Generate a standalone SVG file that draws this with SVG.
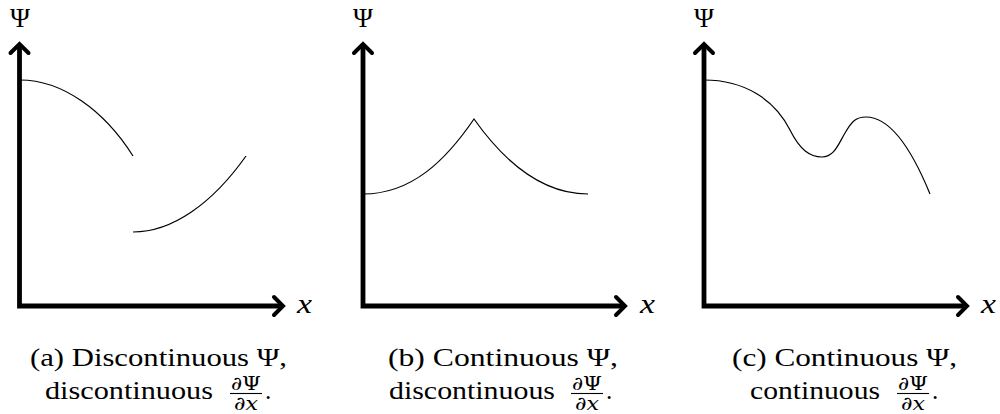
<svg xmlns="http://www.w3.org/2000/svg" width="1000" height="414" viewBox="0 0 1000 414">
<style>
.axis{fill:none;stroke:#000;stroke-width:4.8;stroke-linejoin:miter;stroke-linecap:butt}
.head{fill:none;stroke:#000;stroke-width:4;stroke-linejoin:miter;stroke-linecap:round}
.curve{fill:none;stroke:#000;stroke-width:1.2}
.t{font-family:"Liberation Serif","DejaVu Serif",serif;fill:#000}
.g{font-family:"DejaVu Serif","Liberation Serif",serif;fill:#000}
.cap{font-size:25px}
.lab{font-size:27px}
.xl{font-size:28px;font-style:italic}
.fr{font-size:19px}
.bar{stroke:#000;stroke-width:1.1}
</style>
<rect x="0" y="0" width="1000" height="414" fill="#fff"/>

<g id="panel-a">
  <path class="axis" d="M19.5,47 V306 H280"/>
  <path class="head" d="M10.5,53 L19.5,44 L28.5,53"/>
  <path class="head" d="M274,297 L283,306 L274,315"/>
  <text class="t lab" x="10" y="27" textLength="20" lengthAdjust="spacingAndGlyphs">Ψ</text>
  <text class="t xl" x="297" y="313" textLength="15" lengthAdjust="spacingAndGlyphs">x</text>
  <path class="curve" d="M20,80 C62,80 104,110 133,156"/>
  <path class="curve" d="M133,232 C172,232 212,204 246,156"/>
  <text class="t cap" x="30" y="366" textLength="257" lengthAdjust="spacingAndGlyphs">(a) Discontinuous Ψ,</text>
  <text class="t cap" x="45" y="399" textLength="168" lengthAdjust="spacingAndGlyphs">discontinuous</text>
  <text class="g fr" x="231" y="390" textLength="30" lengthAdjust="spacingAndGlyphs">∂Ψ</text>
  <line class="bar" x1="230" y1="393.5" x2="262" y2="393.5"/>
  <text class="g fr" x="234" y="410" textLength="24" lengthAdjust="spacingAndGlyphs">∂<tspan font-style="italic">x</tspan></text>
  <text class="t cap" x="265" y="399">.</text>
</g>

<g id="panel-b">
  <path class="axis" d="M363,47 V306 H622"/>
  <path class="head" d="M354,53 L363,44 L372,53"/>
  <path class="head" d="M616,297 L625,306 L616,315"/>
  <text class="t lab" x="353" y="27" textLength="20" lengthAdjust="spacingAndGlyphs">Ψ</text>
  <text class="t xl" x="640" y="313" textLength="15" lengthAdjust="spacingAndGlyphs">x</text>
  <path class="curve" d="M363,194 C412,194 446,160 474,119 C503,160 540,194 588,194"/>
  <text class="t cap" x="388" y="366" textLength="230" lengthAdjust="spacingAndGlyphs">(b) Continuous Ψ,</text>
  <text class="t cap" x="389" y="399" textLength="166" lengthAdjust="spacingAndGlyphs">discontinuous</text>
  <text class="g fr" x="572" y="390" textLength="30" lengthAdjust="spacingAndGlyphs">∂Ψ</text>
  <line class="bar" x1="571" y1="393.5" x2="603" y2="393.5"/>
  <text class="g fr" x="575" y="410" textLength="24" lengthAdjust="spacingAndGlyphs">∂<tspan font-style="italic">x</tspan></text>
  <text class="t cap" x="606" y="399">.</text>
</g>

<g id="panel-c">
  <path class="axis" d="M704,47 V306 H964"/>
  <path class="head" d="M695,53 L704,44 L713,53"/>
  <path class="head" d="M958,297 L967,306 L958,315"/>
  <text class="t lab" x="694" y="27" textLength="20" lengthAdjust="spacingAndGlyphs">Ψ</text>
  <text class="t xl" x="981" y="313" textLength="15" lengthAdjust="spacingAndGlyphs">x</text>
  <path class="curve" d="M704,80 C745,80 775,100 790,130 C800,150 810,157 822,157 C834,157 838,145 845,133 C852,121 856,117 866,117 C890,117 912,150 930,194"/>
  <text class="t cap" x="732" y="366" textLength="225" lengthAdjust="spacingAndGlyphs">(c) Continuous Ψ,</text>
  <text class="t cap" x="750" y="399" textLength="130" lengthAdjust="spacingAndGlyphs">continuous</text>
  <text class="g fr" x="898" y="390" textLength="30" lengthAdjust="spacingAndGlyphs">∂Ψ</text>
  <line class="bar" x1="897" y1="393.5" x2="929" y2="393.5"/>
  <text class="g fr" x="901" y="410" textLength="24" lengthAdjust="spacingAndGlyphs">∂<tspan font-style="italic">x</tspan></text>
  <text class="t cap" x="932" y="399">.</text>
</g>
</svg>
